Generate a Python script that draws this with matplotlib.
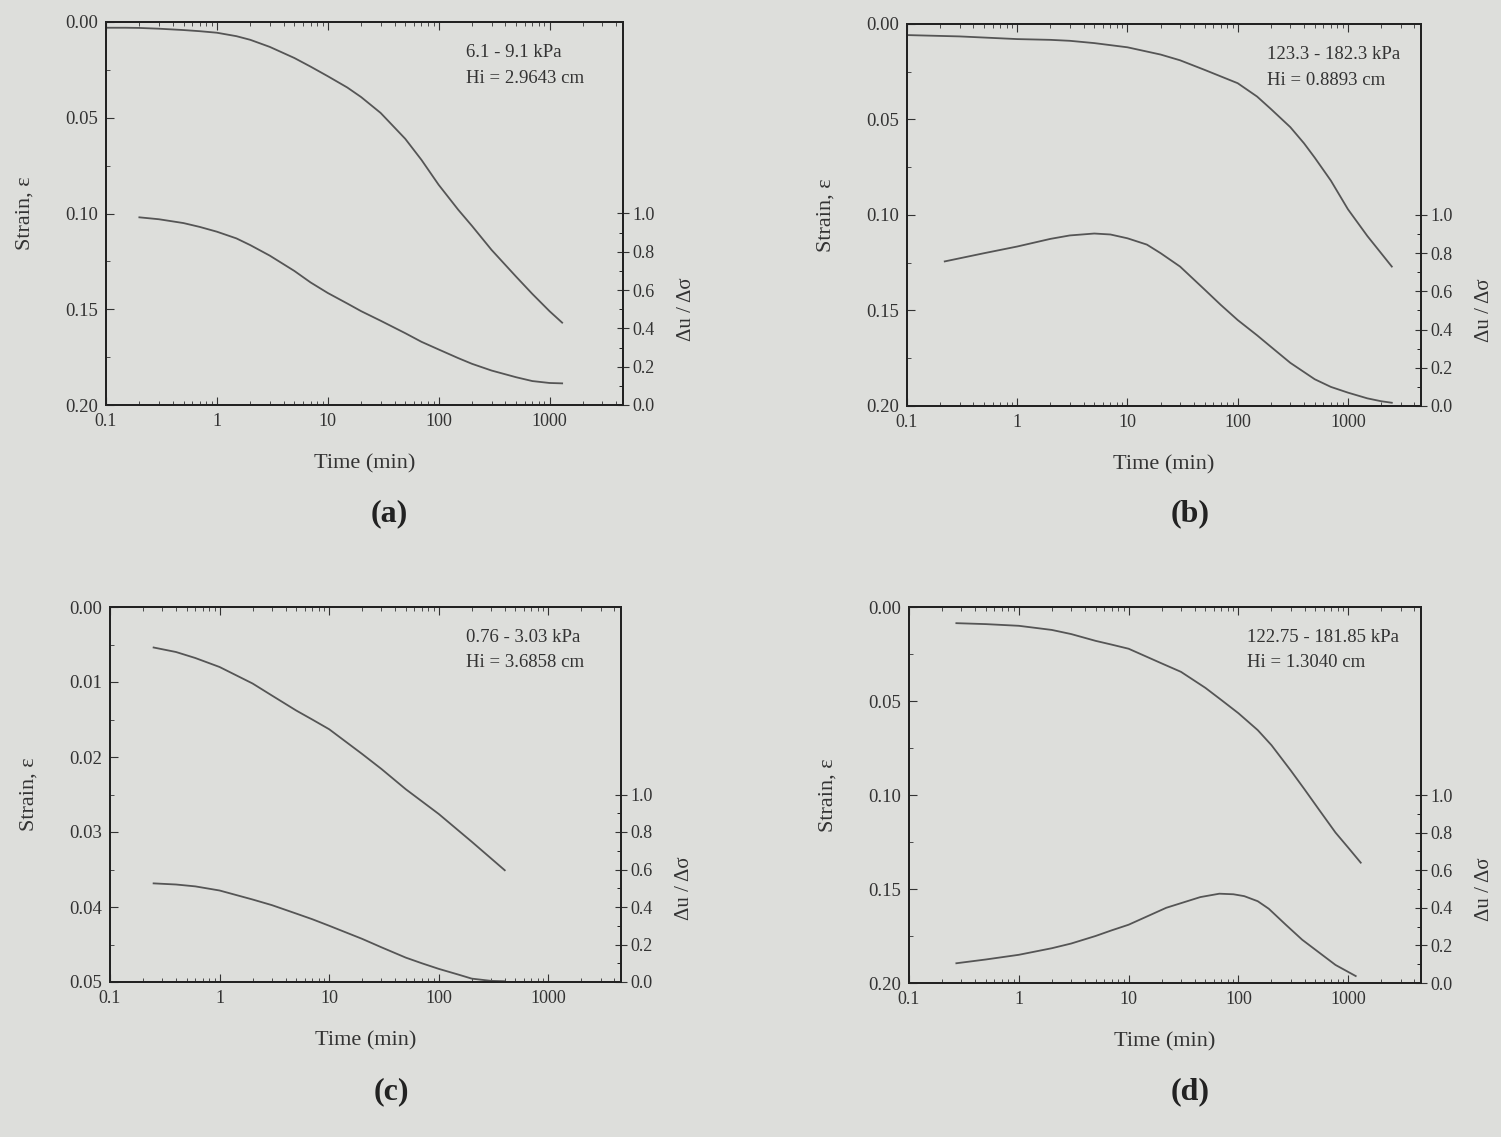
import matplotlib
matplotlib.use("Agg")
import matplotlib.pyplot as plt
from matplotlib.ticker import MultipleLocator, FixedLocator, NullFormatter, FixedFormatter

plt.rcParams['font.family'] = ['Liberation Serif', 'DejaVu Serif']

# (a) 6.1 - 9.1 kPa
t_strain_a = [0.1, 0.15, 0.2, 0.3, 0.5, 0.7, 1, 1.5, 2, 3, 5, 7, 10, 15, 20, 30, 50, 70,
              100, 150, 200, 300, 500, 700, 1000, 1300]
strain_a = [0.0030, 0.0030, 0.0031, 0.0035, 0.0042, 0.0048, 0.0056, 0.0074, 0.0093, 0.0130,
            0.0188, 0.0233, 0.0283, 0.0342, 0.0392, 0.0475, 0.061, 0.072, 0.085, 0.098, 0.1065,
            0.119, 0.133, 0.142, 0.151, 0.157]
t_pore_a = [0.2, 0.3, 0.5, 0.7, 1, 1.5, 2, 3, 5, 7, 10, 15, 20, 30, 50, 70, 100, 150, 200,
            300, 500, 700, 1000, 1300]
pore_a = [0.98, 0.97, 0.95, 0.93, 0.905, 0.87, 0.835, 0.78, 0.70, 0.64, 0.585, 0.53, 0.49,
          0.44, 0.375, 0.33, 0.29, 0.245, 0.215, 0.18, 0.145, 0.125, 0.115, 0.113]

# (b) 123.3 - 182.3 kPa
t_strain_b = [0.1, 0.3, 1, 2, 3, 5, 10, 20, 30, 50, 100, 150, 200, 300, 400, 500, 700,
              1000, 1500, 2000, 2500]
strain_b = [0.0058, 0.0065, 0.0079, 0.0083, 0.0088, 0.010, 0.0122, 0.016, 0.019, 0.024,
            0.031, 0.038, 0.0445, 0.054, 0.0625, 0.070, 0.082, 0.097, 0.111, 0.120, 0.127]
t_pore_b = [0.22, 0.5, 1, 2, 3, 5, 7, 10, 15, 20, 30, 50, 70, 100, 150, 200, 300, 500, 700,
            1000, 1500, 2000, 2500]
pore_b = [0.757, 0.80, 0.835, 0.875, 0.893, 0.903, 0.898, 0.878, 0.845, 0.80, 0.73, 0.61,
          0.53, 0.45, 0.37, 0.31, 0.226, 0.14, 0.10, 0.07, 0.04, 0.025, 0.017]

# (c) 0.76 - 3.03 kPa
t_strain_c = [0.25, 0.4, 0.6, 1, 2, 3, 5, 7, 10, 20, 30, 50, 70, 100, 200, 400]
strain_c = [0.0054, 0.0060, 0.0068, 0.0080, 0.0102, 0.0118, 0.0138, 0.0150, 0.0163, 0.0196,
            0.0216, 0.0243, 0.0259, 0.0276, 0.0313, 0.0351]
t_pore_c = [0.25, 0.4, 0.6, 1, 2, 3, 5, 7, 10, 20, 30, 50, 70, 100, 150, 200, 300, 400]
pore_c = [0.526, 0.52, 0.51, 0.488, 0.44, 0.41, 0.365, 0.335, 0.30, 0.23, 0.185, 0.13,
          0.10, 0.07, 0.04, 0.018, 0.006, 0.004]

# (d) 122.75 - 181.85 kPa
t_strain_d = [0.27, 0.5, 1, 2, 3, 5, 7, 10, 20, 30, 50, 70, 100, 150, 200, 300, 400, 545,
              766, 1000, 1300]
strain_d = [0.0086, 0.0091, 0.0100, 0.0122, 0.0144, 0.0180, 0.020, 0.0222, 0.030, 0.0345,
            0.043, 0.0495, 0.0565, 0.0655, 0.0735, 0.087, 0.097, 0.108, 0.120, 0.128, 0.136]
t_pore_d = [0.27, 0.5, 1, 2, 3, 5, 7, 10, 22, 45, 67, 90, 113, 150, 189, 270, 381, 766, 1170]
pore_d = [0.105, 0.125, 0.15, 0.185, 0.21, 0.25, 0.28, 0.31, 0.40, 0.457, 0.475, 0.472,
          0.462, 0.435, 0.395, 0.31, 0.23, 0.096, 0.037]

panels = [
    ("(a)", t_strain_a, strain_a, t_pore_a, pore_a, 0.20, 0.05, "6.1 - 9.1 kPa", "Hi = 2.9643 cm"),
    ("(b)", t_strain_b, strain_b, t_pore_b, pore_b, 0.20, 0.05, "123.3 - 182.3 kPa", "Hi = 0.8893 cm"),
    ("(c)", t_strain_c, strain_c, t_pore_c, pore_c, 0.05, 0.01, "0.76 - 3.03 kPa", "Hi = 3.6858 cm"),
    ("(d)", t_strain_d, strain_d, t_pore_d, pore_d, 0.20, 0.05, "122.75 - 181.85 kPa", "Hi = 1.3040 cm"),
]

W, H = 1501, 1137
bg = '#dddedb'
fig = plt.figure(figsize=(W / 100, H / 100), dpi=100, facecolor=bg)

# axes boxes in pixels: left, top, right, bottom
boxes = [(106, 22, 623, 405), (907, 24, 1421, 406), (110, 607, 621, 982), (909, 607, 1421, 983)]
label_pos = [(389, 514), (1190, 514), (391, 1092), (1190, 1092)]
note_x = [0.697, 0.700, 0.697, 0.660]

lc = '#555555'
ink = '#333333'

for (name, ts, ss, tp, pp, ymax, ystep, txt1, txt2), (l, t, r, b), (lx, ly), nx in zip(
        panels, boxes, label_pos, note_x):
    ax = fig.add_axes([l / W, 1 - b / H, (r - l) / W, (b - t) / H])
    ax.set_facecolor(bg)
    ax.plot(ts, ss, color=lc, lw=1.3)
    ax.set_xscale('log')
    ax.set_xlim(0.1, 4600)
    ax.set_ylim(ymax, 0)
    ax.yaxis.set_major_locator(MultipleLocator(ystep))
    ax.yaxis.set_minor_locator(MultipleLocator(ystep / 2))
    ax.yaxis.set_major_formatter(plt.FormatStrFormatter('%.2f'))
    ax.xaxis.set_major_locator(FixedLocator([0.1, 1, 10, 100, 1000]))
    ax.xaxis.set_major_formatter(FixedFormatter(['0.1', '1', '10', '100', '1000']))
    ax.xaxis.set_minor_formatter(NullFormatter())
    ax.tick_params(axis='x', which='both', direction='in', top=True, labelsize=13, colors=ink, pad=6)
    ax.tick_params(axis='x', which='major', length=6)
    ax.tick_params(axis='x', which='minor', length=3)
    ax.tick_params(axis='y', which='both', direction='in', right=False, labelsize=13.5, colors=ink, pad=6)
    ax.tick_params(axis='y', which='major', length=6)
    ax.tick_params(axis='y', which='minor', length=3)
    for s in ax.spines.values():
        s.set_color('#222222')
        s.set_linewidth(1.4)
    ax.set_xlabel('Time (min)', fontsize=16, color=ink, labelpad=17)
    ax.set_ylabel('Strain, ε', fontsize=16, color=ink, labelpad=22)

    ax2 = ax.twinx()
    ax2.plot(tp, pp, color=lc, lw=1.3)
    ax2.set_ylim(0, 2.0)
    ax2.yaxis.set_major_locator(FixedLocator([0, 0.2, 0.4, 0.6, 0.8, 1.0]))
    ax2.yaxis.set_minor_locator(FixedLocator([0.1, 0.3, 0.5, 0.7, 0.9]))
    ax2.yaxis.set_major_formatter(plt.FormatStrFormatter('%.1f'))
    ax2.tick_params(axis='y', which='major', direction='inout', length=8, labelsize=13,
                    colors=ink, pad=3)
    ax2.tick_params(axis='y', which='minor', direction='in', length=3)
    for s in ax2.spines.values():
        s.set_color('#222222')
        s.set_linewidth(1.4)
    ax2.set_ylabel('Δu / Δσ', fontsize=15, color=ink, rotation=90)
    ax2.yaxis.set_label_coords(1.105, 0.25)

    ax.text(nx, 0.92, txt1, transform=ax.transAxes, fontsize=13.5, color=ink, va='center')
    ax.text(nx, 0.853, txt2, transform=ax.transAxes, fontsize=13.5, color=ink, va='center')

    fig.text(lx / W, 1 - ly / H, name, fontsize=23, fontweight='bold', color='#222222',
             ha='center', va='center')

fig.savefig('out.png', dpi=100, facecolor=bg)
